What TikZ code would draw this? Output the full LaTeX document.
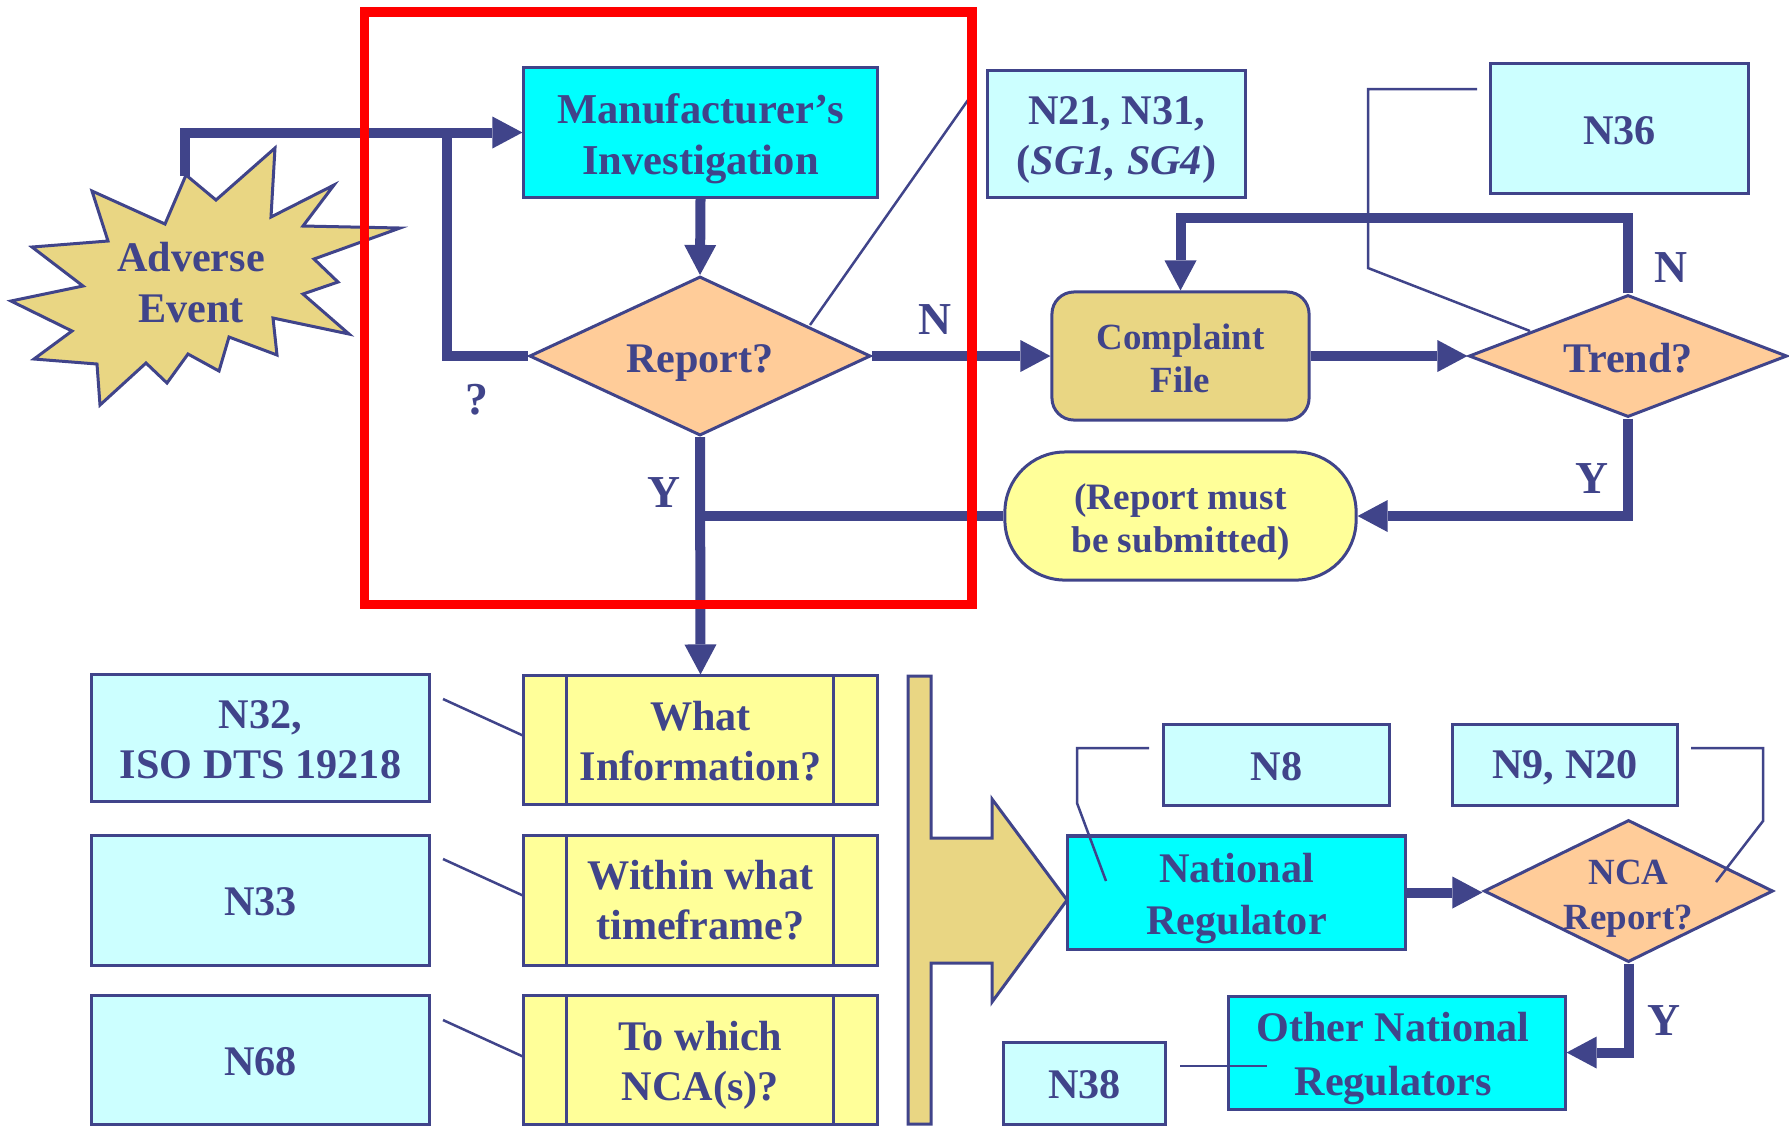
\documentclass[tikz,border=0pt]{standalone}
\usepackage{fontspec}
\setmainfont{Liberation Serif}
\usetikzlibrary{shapes.geometric,arrows.meta}
\definecolor{dblue}{RGB}{64,68,138}
\definecolor{cyanbox}{RGB}{0,255,255}
\definecolor{lcyan}{RGB}{204,255,255}
\definecolor{peach}{RGB}{255,204,153}
\definecolor{tanfill}{RGB}{233,214,131}
\definecolor{lyellow}{RGB}{255,255,153}
\begin{document}
\begin{tikzpicture}[x=0.01cm,y=-0.01cm,
  txt/.style={text=dblue, font=\fontsize{12}{14.2}\selectfont\bfseries, align=center, inner sep=0pt},
  box/.style={draw=dblue, line width=0.03cm, rectangle, inner sep=0pt},
  cbox/.style={box, fill=cyanbox},
  lbox/.style={box, fill=lcyan},
  proc/.style={box, fill=lyellow, minimum width=3.53cm,
    path picture={\draw[dblue, line width=0.03cm]
      ([xshift=0.43cm]path picture bounding box.north west) -- ([xshift=0.43cm]path picture bounding box.south west)
      ([xshift=-0.44cm]path picture bounding box.north east) -- ([xshift=-0.44cm]path picture bounding box.south east);}},
  dia/.style={draw=dblue, line width=0.03cm, fill=peach, diamond, inner sep=0pt},
  flow/.style={draw=dblue, line width=0.1cm, -{Triangle[length=0.3cm,width=0.32cm,line width=0pt]}},
  link/.style={draw=dblue, line width=0.1cm},
  thinl/.style={draw=dblue, line width=0.025cm},
  lab/.style={text=dblue, font=\fontsize{13}{15}\selectfont\bfseries, inner sep=0pt},
]
\useasboundingbox (0,0) rectangle (1789,1126);

% Adverse event star
\draw[fill=tanfill, draw=dblue, line width=0.03cm]
 (186,175) -- (216,200) -- (275,148) -- (271,217) -- (334,185) -- (303,226) -- (400,228) -- (314,259)
 -- (338,282) -- (303,294) -- (349,334) -- (273,318) -- (277,355) -- (229,337) -- (219,371) -- (188,354)
 -- (167,383) -- (146,363) -- (100,405) -- (97,364) -- (34,359) -- (72,331) -- (11,301) -- (83,286)
 -- (32,247) -- (108,241) -- (92,191) -- (165,224) -- cycle;
\node[txt, font=\fontsize{12}{14.5}\selectfont\bfseries] (ae) at (191,282.5) {Adverse\\Event};
\coordinate (evtop) at (185,176);

% top row
\node[cbox, minimum width=3.53cm, minimum height=1.29cm,
  label={[txt, font=\fontsize{12.1}{14.6}\selectfont\bfseries, yshift=-0.06cm]center:Manufacturer’s\\Investigation}] (mi) at (700.5,132.5) {};
\node[dia, minimum width=3.41cm, minimum height=1.59cm,
  label={[txt, yshift=-0.07cm]center:Report?}] (rep) at (700,356) {};
\node[lbox, minimum width=2.57cm, minimum height=1.26cm,
  label={[txt, yshift=-0.06cm]center:N21, N31,\\(\textit{SG1, SG4})}] (n21) at (1116.5,134) {};
\node[box, fill=tanfill, rounded corners=0.22cm, minimum width=2.57cm, minimum height=1.28cm,
  label={[txt, font=\fontsize{10.5}{12.2}\selectfont\bfseries, yshift=-0.02cm]center:Complaint\\File}] (comp) at (1180.5,356) {};
\node[lbox, minimum width=2.57cm, minimum height=1.29cm,
  label={[txt, yshift=-0.02cm]center:N36}] (n36) at (1619.5,128.5) {};
\node[dia, minimum width=3.18cm, minimum height=1.22cm,
  label={[txt, yshift=-0.02cm]center:Trend?}] (trend) at (1628,356) {};
\node[box, fill=lyellow, rounded corners=0.6cm, minimum width=3.51cm, minimum height=1.28cm,
  label={[txt, font=\fontsize{10.6}{12.2}\selectfont\bfseries, yshift=-0.06cm]center:(Report must\\be submitted)}] (rm) at (1180.5,516) {};

% lower left
\node[lbox, minimum width=3.37cm, minimum height=1.26cm,
  label={[txt, yshift=-0.02cm]center:N32,\\ISO DTS 19218}] (n32) at (260.5,738) {};
\node[lbox, minimum width=3.37cm, minimum height=1.29cm,
  label={[txt, yshift=-0.01cm]center:N33}] (n33) at (260.5,900.5) {};
\node[lbox, minimum width=3.37cm, minimum height=1.28cm,
  label={[txt, yshift=-0.02cm]center:N68}] (n68) at (260.5,1060) {};
\node[proc, minimum height=1.28cm,
  label={[txt, yshift=-0.01cm]center:What\\Information?}] (w1) at (700.5,740) {};
\node[proc, minimum height=1.29cm,
  label={[txt]center:Within what\\timeframe?}] (w2) at (700.5,900.5) {};
\node[proc, minimum height=1.28cm,
  label={[txt, yshift=-0.05cm]center:To which\\NCA(s)?}] (w3) at (700.5,1060) {};

% big arrow
\draw[fill=tanfill, draw=dblue, line width=0.03cm]
 (908,676) -- (931,676) -- (931,838) -- (992,838) -- (992,799) -- (1067,900) -- (992,1002)
 -- (992,963) -- (931,963) -- (931,1124) -- (908,1124) -- cycle;

% lower right
\node[cbox, minimum width=3.37cm, minimum height=1.13cm,
  label={[txt, font=\fontsize{12}{14.8}\selectfont\bfseries, yshift=-0.06cm]center:National\\Regulator}] (nr) at (1236.5,892.5) {};
\node[lbox, minimum width=2.25cm, minimum height=0.81cm,
  label={[txt, yshift=-0.02cm]center:N8}] (n8) at (1276.5,764.5) {};
\node[lbox, minimum width=2.24cm, minimum height=0.81cm,
  label={[txt, yshift=-0.03cm]center:N9, N20}] (n920) at (1565,764.5) {};
\node[dia, minimum width=2.89cm, minimum height=1.42cm,
  label={[txt, font=\fontsize{10.5}{12.8}\selectfont\bfseries, yshift=-0.08cm]center:NCA\\Report?}] (nca) at (1628.5,891) {};
\node[cbox, minimum width=3.36cm, minimum height=1.13cm,
  label={[txt, font=\fontsize{12}{15.4}\selectfont\bfseries, yshift=-0.06cm, xshift=-0.04cm]center:Other National\\Regulators}] (onr) at (1397,1052.5) {};
\node[lbox, minimum width=1.61cm, minimum height=0.82cm,
  label={[txt, yshift=-0.02cm]center:N38}] (n38) at (1084.5,1083) {};

% flows
\draw[flow] (evtop) |- (mi.west);
\draw[link] (rep.west) -| (447,132);
\draw[flow] (mi.south) -- (rep.north);
\draw[flow] (rep.east) -- (comp.west);
\draw[flow] (comp.east) -- (trend.west);
\draw[flow] (trend.north) -- ++(0,-75) -| (comp.north);
\draw[flow] (trend.south) |- (rm.east);
\draw[link] (rm.west) -- (rm.west -| rep.south);
\draw[flow] (rep.south) -- (w1.north);
\draw[flow] (nr.east) -- (nr.east -| nca.west);
\draw[flow] (nca.south) |- (onr.east);

% labels
\node[lab] (lq) at (477,400) {?};
\node[lab] (ln1) at (935,320) {N};
\node[lab] (ly1) at (664,493) {Y};
\node[lab] (ln2) at (1671,268) {N};
\node[lab] (ly2) at (1592,479) {Y};
\node[lab] (ly3) at (1664,1020) {Y};

% callout lines
\draw[thinl] (810,325) -- (968,100);
\draw[thinl] (1477,89) -- (1368,89) -- (1368,268) -- (1530,331);
\draw[thinl] (443,699) -- (524,736);
\draw[thinl] (443,859) -- (524,896);
\draw[thinl] (443,1020) -- (524,1057);
\draw[thinl] (1149,748) -- (1077,748) -- (1077,803) -- (1106,881);
\draw[thinl] (1691,748) -- (1763,748) -- (1763,821) -- (1716,882);
\draw[thinl] (1180,1066) -- (1267,1066);

% red frame
\draw[red, line width=0.095cm] (364.5,12) rectangle (972,604.5);
\end{tikzpicture}
\end{document}
